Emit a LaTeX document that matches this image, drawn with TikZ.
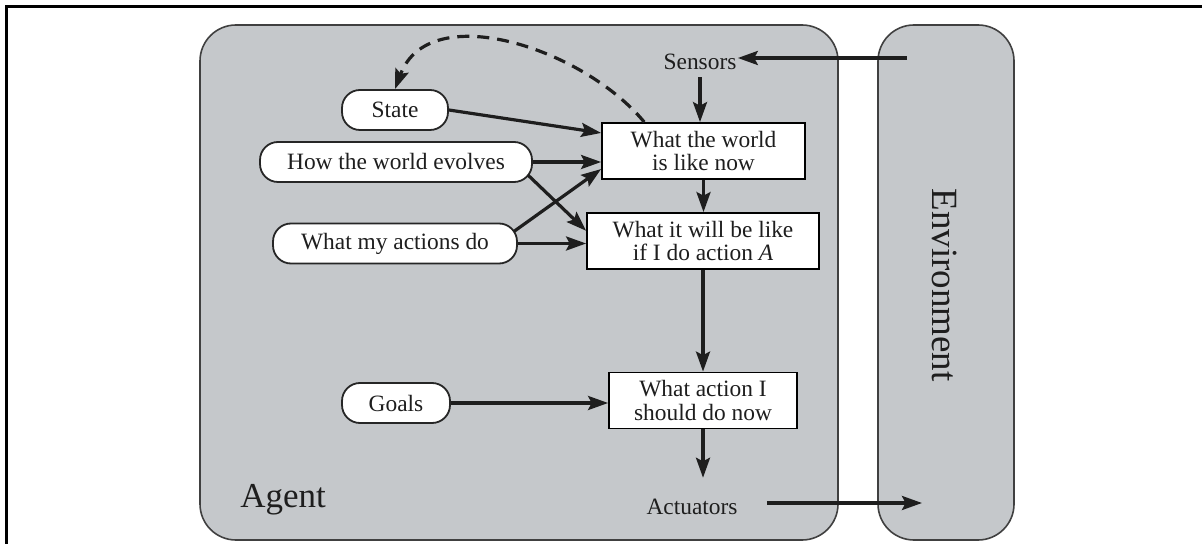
\documentclass[tikz,border=0pt]{standalone}
\usepackage{fontspec}
\setmainfont{Liberation Serif}
\usetikzlibrary{arrows.meta,calc}
\definecolor{agentgray}{RGB}{197,200,203}
\definecolor{ink}{RGB}{30,30,30}
\begin{document}
\begin{tikzpicture}[x=0.5pt,y=-0.5pt,
  font=\fontsize{11.7}{11.6}\selectfont,
  region/.style={draw=black!75, line width=0.8pt, fill=agentgray, rounded corners=18pt},
  memory/.style={draw=black!85, line width=0.9pt, fill=white, rounded corners=9pt,
    minimum height=20pt, inner sep=0pt, text=ink},
  stepbox/.style={draw=black, line width=0.9pt, fill=white, align=center,
    inner sep=0pt, minimum height=28pt, text=ink},
  label/.style={inner sep=3.5pt, text=ink},
  flow/.style={line width=1.6pt, draw=ink, -{Stealth[length=10pt,width=7pt,inset=1.8pt]}},
  dashflow/.style={flow, dash pattern=on 6pt off 4pt},
]
% canvas and frame
\useasboundingbox (0,0) rectangle (1202,544);
\fill[white] (0,0) rectangle (1202,544);
\draw[line width=1.1pt] (6.5,544) -- (6.5,6.5) -- (1202,6.5);

% agent and environment regions
\node[region, minimum width=319pt, minimum height=257.5pt, inner sep=0pt] (agent) at (519,282.5) {};
\node[region, minimum width=68pt, minimum height=257.5pt, inner sep=0pt] (env) at (946,282.5) {};
\node[anchor=base west, inner sep=0pt, text=ink, font=\fontsize{17.5}{18}\selectfont] (agentlbl) at (240,507) {Agent};
\node[rotate=-90, inner sep=0pt, text=ink, font=\fontsize{18.5}{19}\selectfont] (envlbl) at (945,285) {Environment};

% sensors and actuators
\node[label] (sensors) at (700,62) {Sensors};
\node[label] (actuators) at (692,507) {Actuators};

% internal state and knowledge
\node[memory, minimum width=53pt] (state) at (395,110) {State};
\node[memory, minimum width=136pt] (evolve) at (396,162) {How the world evolves};
\node[memory, minimum width=122pt] (acts) at (395,243.5) {What my actions do};
\node[memory, minimum width=54pt] (goals) at (396,403) {Goals};

% reasoning steps
\node[stepbox, minimum width=101.5pt] (now) at (703.5,151) {What the world\\is like now};
\node[stepbox, minimum width=116pt] (will) at (703,241) {What it will be like\\if I do action \textit{A}};
\node[stepbox, minimum width=94pt] (act) at (703,400.5) {What action I\\should do now};

% percept and action links with the environment
\coordinate (envin) at (907,58);
\coordinate (envout) at (922,503);
\draw[flow, shorten >=-3pt] (envin) -- (envin -| sensors.east);
\draw[flow, shorten <=11pt] (actuators.east |- envout) -- (envout);

% main pipeline
\draw[flow] (sensors.south) -- (sensors.south |- now.north);
\draw[flow] (now.south) -- (now.south |- will.north);
\draw[flow] (will.south) -- (will.south |- act.north);
\draw[flow, shorten >=7pt] (act.south) -- (act.south |- actuators.north);

% inputs to the steps
\draw[flow] (state.east) -- (now.170);
\draw[flow] (evolve.east) -- (evolve.east -| now.west);
\draw[flow] ($(evolve.east)+(-2.5pt,-6.5pt)$) -- (will.175);
\draw[flow] ($(acts.east)+(-2pt,6pt)$) -- (now.190);
\draw[flow] (acts.east) -- (acts.east -| will.west);
\draw[flow] (goals.east) -- (goals.east -| act.west);

% state update
\draw[dashflow] (now.154) .. controls (583,48) and (429,-2) .. (state.north);
\end{tikzpicture}
\end{document}
